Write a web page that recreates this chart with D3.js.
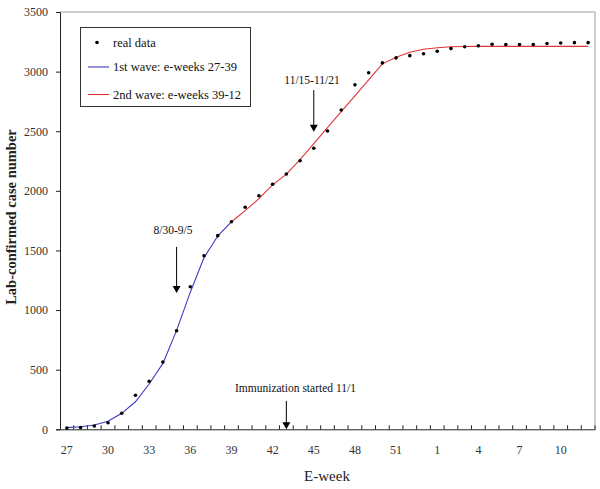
<!DOCTYPE html>
<html>
<head>
<meta charset="utf-8">
<script src="https://cdn.jsdelivr.net/npm/d3@7"></script>
<style>
  html, body { margin: 0; padding: 0; background: #fff; }
  svg { display: block; font-family: "Liberation Serif", "Times New Roman", serif; }
</style>
</head>
<body>
<svg id="chart" width="600" height="489"></svg>
<script>
// ---- data ----
const weeks = ["27","28","29","30","31","32","33","34","35","36","37","38","39","40","41","42","43","44","45","46","47","48","49","50","51","52","53","1","2","3","4","5","6","7","8","9","10","11","12"];
const realData = [10, 15, 28, 55, 134, 285, 402, 564, 827, 1196, 1456, 1624, 1741, 1862, 1959, 2055, 2141, 2253, 2357, 2502, 2678, 2889, 2990, 3073, 3115, 3134, 3150, 3171, 3193, 3208, 3216, 3229, 3227, 3227, 3227, 3235, 3240, 3243, 3243];
const wave1Weeks = ["27","28","29","30","31","32","33","34","35","36","37","38","39"];
const wave1Fit = [14, 22, 36, 67, 134, 231, 380, 553, 830, 1150, 1440, 1621, 1741];
const wave2Weeks = ["39","40","41","42","43","44","45","46","47","48","49","50","51","52","53","1","2","3","4","5","6","7","8","9","10","11","12"];
const wave2Fit = [1741, 1834, 1935, 2050, 2140, 2262, 2396, 2530, 2664, 2797, 2931, 3065, 3120, 3162, 3187, 3200, 3208, 3211, 3212, 3212, 3212, 3212, 3212, 3212, 3212, 3212, 3212];
const yTicks = [0, 500, 1000, 1500, 2000, 2500, 3000, 3500];
const xTickLabels = ["27","30","33","36","39","42","45","48","51","1","4","7","10"];
const legendLabels = ["real data", "1st wave: e-weeks 27-39", "2nd wave: e-weeks 39-12"];
const annotations = [
  {week: "35", label: "8/30-9/5", value: 1530, tip: 1143},
  {week: "45", label: "11/15-11/21", value: 2845, tip: 2496},
  {week: "43", label: "Immunization started 11/1", value: 238, tip: 0}
];

// ---- layout ----
const L = 60, R = 595, T = 12, B = 429.3;
const svg = d3.select("#chart");
const x = d3.scaleBand().domain(weeks).range([L, R]).padding(0);
const cx = w => x(w) + x.bandwidth() / 2;
const y = d3.scaleLinear().domain([0, 3500]).range([B, T]);

// plot frame (top & right gray)
svg.append("path")
  .attr("d", `M${L},${T}H${R}V${B}`)
  .attr("fill", "none").attr("stroke", "#a0a0a0").attr("stroke-width", 1);

// y axis
const yAxis = svg.append("g").attr("transform", `translate(${L},0)`)
  .call(d3.axisLeft(y).tickValues(yTicks).tickSize(4).tickPadding(8).tickFormat(d3.format("d")));
yAxis.select(".domain").attr("stroke", "#222");
yAxis.selectAll(".tick line").attr("stroke", "#222");
yAxis.selectAll("text").attr("font-size", 12).attr("fill", "#333")
  .attr("font-family", "Liberation Serif, Times New Roman, serif");

// x axis
const xAxis = svg.append("g").attr("transform", `translate(0,${B})`)
  .call(d3.axisBottom(x).tickValues(xTickLabels).tickSize(0).tickPadding(16));
xAxis.select(".domain").attr("stroke", "#222");
xAxis.selectAll("text").attr("font-size", 12).attr("fill", "#333")
  .attr("font-family", "Liberation Serif, Times New Roman, serif");
// tick marks between categories (pointing inward)
svg.append("g").selectAll("line").data(weeks.slice(1).concat(["__end"]))
  .join("line")
  .attr("x1", (d, i) => i < weeks.length - 1 ? x(d) : R)
  .attr("x2", (d, i) => i < weeks.length - 1 ? x(d) : R)
  .attr("y1", B).attr("y2", B - 4)
  .attr("stroke", "#222");

// axis titles
svg.append("text").attr("transform", `translate(16,217) rotate(-90)`)
  .attr("text-anchor", "middle").attr("font-size", 14.5).attr("font-weight", "bold")
  .attr("fill", "#222").text("Lab-confirmed case number");
svg.append("text").attr("x", 327).attr("y", 481).attr("text-anchor", "middle")
  .attr("font-size", 15).attr("fill", "#222").text("E-week");

// fit lines
const line = d3.line().x(d => cx(d[0])).y(d => y(d[1]));
svg.append("path").datum(wave1Weeks.map((w, i) => [w, wave1Fit[i]]))
  .attr("d", line).attr("fill", "none").attr("stroke", "#3c3cc0").attr("stroke-width", 1.1);
svg.append("path").datum(wave2Weeks.map((w, i) => [w, wave2Fit[i]]))
  .attr("d", line).attr("fill", "none").attr("stroke", "#e03434").attr("stroke-width", 1.1);

// real data points
svg.append("g").selectAll("circle").data(weeks.map((w, i) => [w, realData[i]]))
  .join("circle")
  .attr("cx", d => cx(d[0])).attr("cy", d => y(d[1])).attr("r", 1.8).attr("fill", "#000");

// annotations
const ann = svg.append("g");
annotations.forEach((a, i) => {
  const ax = cx(a.week);
  const top = y(a.value), tip = y(a.tip);
  ann.append("line").attr("x1", ax).attr("x2", ax).attr("y1", top).attr("y2", tip - 6)
    .attr("stroke", "#000").attr("stroke-width", 1);
  ann.append("path").attr("d", `M${ax - 4},${tip - 7}L${ax + 4},${tip - 7}L${ax},${tip}Z`).attr("fill", "#000");
});
svg.append("text").attr("x", 173).attr("y", 234).attr("text-anchor", "middle")
  .attr("font-size", 11.5).attr("fill", "#111").text(annotations[0].label);
svg.append("text").attr("x", 312).attr("y", 84).attr("text-anchor", "middle")
  .attr("font-size", 11.5).attr("fill", "#111").text(annotations[1].label);
svg.append("text").attr("x", 235).attr("y", 392).attr("text-anchor", "start")
  .attr("font-size", 11.5).attr("fill", "#111").text(annotations[2].label);

// legend
const lg = svg.append("g");
lg.append("rect").attr("x", 80.5).attr("y", 27.5).attr("width", 170).attr("height", 79)
  .attr("fill", "#fff").attr("stroke", "#333").attr("stroke-width", 1);
lg.append("circle").attr("cx", 97).attr("cy", 42.5).attr("r", 1.8).attr("fill", "#000");
lg.append("line").attr("x1", 88).attr("x2", 109).attr("y1", 67).attr("y2", 67).attr("stroke", "#3c3cc0").attr("stroke-width", 1.1);
lg.append("line").attr("x1", 88).attr("x2", 109).attr("y1", 94.5).attr("y2", 94.5).attr("stroke", "#e03434").attr("stroke-width", 1.1);
[46.5, 71, 98.5].forEach((yy, i) => {
  lg.append("text").attr("x", 113).attr("y", yy).attr("font-size", 12.5).attr("fill", "#111").text(legendLabels[i]);
});
</script>
</body>
</html>
